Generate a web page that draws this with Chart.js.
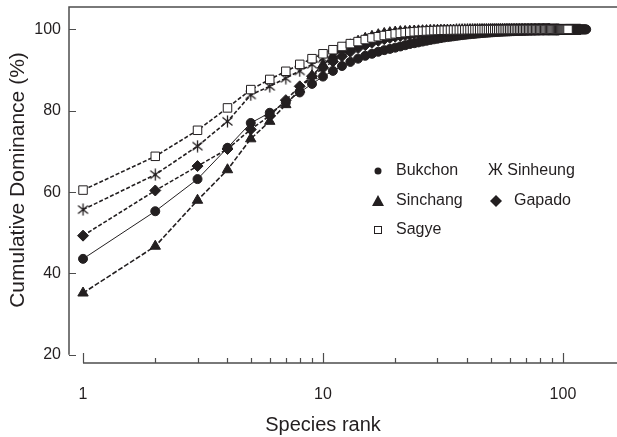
<!DOCTYPE html>
<html>
<head>
<meta charset="utf-8">
<script src="https://cdn.jsdelivr.net/npm/chart.js@4.4.1/dist/chart.umd.min.js"></script>
<style>
  html, body { margin: 0; padding: 0; background: #fff; }
  #wrap { width: 617px; height: 437px; position: relative; }
</style>
</head>
<body>
<div id="wrap"><canvas id="chart" width="617" height="437"></canvas></div>
<script>
// k-dominance values, index 0 = species rank 1
const bukchon = [43.6, 55.3, 63.2, 70.9, 77.0, 79.5, 82.0, 84.5, 86.6, 88.4,
  89.8, 91.0, 92.0, 92.8, 93.5, 94.0, 94.5, 94.9, 95.2, 95.5,
  95.8, 96.1, 96.4, 96.6, 96.8, 97.0, 97.2, 97.4, 97.55, 97.7,
  97.85, 98.0, 98.1, 98.2, 98.3, 98.4, 98.5, 98.58, 98.66, 98.74,
  98.8, 98.86, 98.92, 98.98, 99.03, 99.08, 99.13, 99.17, 99.21, 99.25,
  99.29, 99.32, 99.35, 99.38, 99.41, 99.44, 99.46, 99.48, 99.5, 99.52,
  99.54, 99.56, 99.58, 99.6, 99.62, 99.63, 99.64, 99.66, 99.67, 99.68,
  99.7, 99.71, 99.72, 99.73, 99.74, 99.75, 99.76, 99.77, 99.78, 99.79,
  99.8, 99.81, 99.82, 99.83, 99.84, 99.84, 99.85, 99.86, 99.87, 99.87,
  99.88, 99.89, 99.89, 99.9, 99.9, 99.91, 99.91, 99.92, 99.92, 99.93,
  99.93, 99.94, 99.94, 99.95, 99.95, 99.96, 99.96, 99.97, 99.97, 99.97,
  99.98, 99.98, 99.98, 99.98, 99.99, 99.99, 99.99, 99.99, 99.99, 100,
  100, 100, 100, 100, 100];
const sinheung = [55.7, 64.3, 71.3, 77.4, 83.9, 86.0, 88.0, 89.8, 91.4, 92.8,
  94.0, 95.0, 95.9, 96.6, 97.2, 97.7, 98.1, 98.4, 98.65, 98.85,
  99.0, 99.15, 99.27, 99.37, 99.45, 99.52, 99.58, 99.63, 99.67, 99.71,
  99.74, 99.77, 99.79, 99.81, 99.83, 99.85, 99.86, 99.87, 99.88, 99.89,
  99.9, 99.91, 99.91, 99.92, 99.92, 99.93, 99.93, 99.94, 99.94, 99.95,
  99.95, 99.95, 99.96, 99.96, 99.96, 99.96, 99.97, 99.97, 99.97, 99.97,
  99.98, 99.98, 99.98, 99.98, 99.98, 99.98, 99.98, 99.99, 99.99, 99.99,
  99.99, 99.99, 99.99, 99.99, 99.99, 99.99, 100, 100, 100, 100,
  100, 100, 100, 100, 100, 100, 100, 100, 100, 100,
  100, 100, 100, 100, 100, 100];
const sinchang = [35.2, 46.7, 58.0, 65.5, 73.1, 77.4, 81.5, 85.3, 88.6, 91.3,
  93.4, 95.0, 96.2, 97.1, 97.8, 98.3, 98.7, 99.0, 99.2, 99.35,
  99.45, 99.5, 99.55, 99.6, 99.64, 99.68, 99.7, 99.72, 99.74, 99.76,
  99.78, 99.8, 99.81, 99.82, 99.83, 99.84, 99.85, 99.86, 99.87, 99.88,
  99.89, 99.9, 99.9, 99.91, 99.91, 99.92, 99.92, 99.93, 99.93, 99.94,
  99.94, 99.95, 99.95, 99.95, 99.96, 99.96, 99.96, 99.97, 99.97, 99.97,
  99.97, 99.98, 99.98, 99.98, 99.98, 99.98, 99.99, 99.99, 99.99, 99.99,
  99.99, 99.99, 99.99, 100, 100, 100, 100, 100, 100, 100,
  100, 100, 100, 100, 100, 100, 100, 100];
const gapado = [49.3, 60.4, 66.4, 70.6, 75.4, 78.8, 82.6, 86.0, 88.5, 90.5,
  92.1, 93.4, 94.5, 95.4, 96.1, 96.7, 97.2, 97.6, 97.9, 98.2,
  98.4, 98.6, 98.75, 98.9, 99.0, 99.1, 99.2, 99.27, 99.34, 99.4,
  99.45, 99.5, 99.54, 99.58, 99.61, 99.64, 99.67, 99.7, 99.72, 99.74,
  99.76, 99.78, 99.79, 99.8, 99.81, 99.82, 99.83, 99.84, 99.85, 99.86,
  99.87, 99.88, 99.88, 99.89, 99.89, 99.9, 99.9, 99.91, 99.91, 99.92,
  99.92, 99.92, 99.93, 99.93, 99.93, 99.94, 99.94, 99.94, 99.95, 99.95,
  99.95, 99.95, 99.96, 99.96, 99.96, 99.96, 99.97, 99.97, 99.97, 99.97,
  99.97, 99.98, 99.98, 99.98, 99.98, 99.98, 99.98, 99.99, 99.99, 99.99,
  99.99, 99.99, 99.99, 99.99, 99.99, 99.99, 99.99, 99.99, 99.99, 99.99,
  99.99, 99.99, 100, 100, 100, 100, 100, 100, 100, 100,
  100, 100, 100, 100, 100, 100, 100, 100];
const sagye = [60.5, 68.8, 75.2, 80.7, 85.2, 87.7, 89.7, 91.4, 92.8, 94.0,
  95.0, 95.8, 96.5, 97.0, 97.5, 97.9, 98.2, 98.5, 98.7, 98.9,
  99.05, 99.2, 99.3, 99.4, 99.48, 99.55, 99.6, 99.65, 99.7, 99.73,
  99.76, 99.78, 99.8, 99.82, 99.84, 99.85, 99.86, 99.87, 99.88, 99.89,
  99.9, 99.9, 99.91, 99.91, 99.92, 99.92, 99.93, 99.93, 99.94, 99.94,
  99.94, 99.95, 99.95, 99.95, 99.96, 99.96, 99.96, 99.96, 99.97, 99.97,
  99.97, 99.97, 99.97, 99.98, 99.98, 99.98, 99.98, 99.98, 99.98, 99.99,
  99.99, 99.99, 99.99, 99.99, 99.99, 99.99, 99.99, 99.99, 99.99, 99.99,
  99.99, 99.99, 99.99, 99.99, 99.99, 100, 100, 100, 100, 100,
  100, 100, 100, 100, 100, 100, 100, 100, 100, 100,
  100, 100, 100, 100, 100];

const yTicks = [20, 40, 60, 80, 100];
const xTicks = [1, 10, 100];
const xMinorTicks = [2, 3, 4, 5, 6, 7, 8, 9, 20, 30, 40, 50, 60, 70, 80, 90];

const INK = '#231f20';
const FONT = '"Liberation Sans", Arial, sans-serif';

function toPoints(arr) {
  return arr.map((v, i) => ({ x: i + 1, y: v }));
}

// six-armed asterisk used for Sinheung
function makeStar() {
  const c = document.createElement('canvas');
  c.width = 13; c.height = 13;
  const g = c.getContext('2d');
  g.strokeStyle = INK;
  g.lineWidth = 1.3;
  g.beginPath();
  g.moveTo(6.5, 0.5); g.lineTo(6.5, 12.5);
  g.moveTo(1.5, 2.5); g.lineTo(11.5, 10.5);
  g.moveTo(11.5, 2.5); g.lineTo(1.5, 10.5);
  g.stroke();
  return c;
}

const legendItems = [
  { text: 'Bukchon', style: 'circle', x: 378, y: 171 },
  { text: 'Sinchang', style: 'triangle', x: 378, y: 201 },
  { text: 'Sagye', style: 'rect', x: 378, y: 230 },
  { text: 'Ж Sinheung', style: 'text', x: 488, y: 171 },
  { text: 'Gapado', style: 'rectRot', x: 496, y: 201 }
];

const axesPlugin = {
  id: 'axesPlugin',
  afterDraw(chart) {
    const { ctx, chartArea: a, scales: { x, y } } = chart;
    ctx.save();
    ctx.strokeStyle = '#4d4d4d';
    ctx.lineWidth = 1.5;
    const y20 = y.getPixelForValue(20);
    ctx.beginPath();
    // top frame and y axis (stops at 20)
    ctx.moveTo(a.right, a.top);
    ctx.lineTo(a.left, a.top);
    ctx.lineTo(a.left, y20);
    // x axis starts at rank 1
    ctx.moveTo(x.getPixelForValue(1), a.bottom);
    ctx.lineTo(a.right, a.bottom);
    ctx.stroke();

    ctx.lineWidth = 1.2;
    ctx.beginPath();
    yTicks.forEach(v => {
      const py = Math.round(y.getPixelForValue(v)) + 0.5;
      ctx.moveTo(a.left, py); ctx.lineTo(a.left + 7, py);
    });
    xTicks.forEach(v => {
      const px = Math.round(x.getPixelForValue(v)) + 0.5;
      ctx.moveTo(px, a.bottom); ctx.lineTo(px, a.bottom - 10);
    });
    xMinorTicks.forEach(v => {
      const px = Math.round(x.getPixelForValue(v)) + 0.5;
      ctx.moveTo(px, a.bottom); ctx.lineTo(px, a.bottom - 5);
    });
    ctx.stroke();

    // axis titles
    ctx.fillStyle = INK;
    ctx.textAlign = 'center';
    ctx.textBaseline = 'middle';
    ctx.font = '20px ' + FONT;
    ctx.fillText('Species rank', 323, 425);
    ctx.save();
    ctx.font = '21px ' + FONT;
    ctx.translate(18, 180);
    ctx.rotate(-Math.PI / 2);
    ctx.fillText('Cumulative Dominance (%)', 0, 0);
    ctx.restore();

    // legend inside the plot
    ctx.font = '16px ' + FONT;
    ctx.textAlign = 'left';
    legendItems.forEach(it => {
      ctx.fillStyle = INK;
      ctx.strokeStyle = INK;
      ctx.lineWidth = 1;
      if (it.style === 'text') {
        ctx.fillText(it.text, it.x, it.y);
        return;
      }
      if (it.style === 'circle') {
        ctx.beginPath(); ctx.arc(it.x, it.y, 3.5, 0, Math.PI * 2); ctx.fill();
      } else if (it.style === 'triangle') {
        ctx.beginPath();
        ctx.moveTo(it.x, it.y - 6); ctx.lineTo(it.x + 6, it.y + 5); ctx.lineTo(it.x - 6, it.y + 5);
        ctx.closePath(); ctx.fill();
      } else if (it.style === 'rect') {
        ctx.fillStyle = '#fff';
        ctx.fillRect(it.x - 3.5, it.y - 3.5, 7, 7);
        ctx.strokeRect(it.x - 3.5, it.y - 3.5, 7, 7);
        ctx.fillStyle = INK;
      } else if (it.style === 'rectRot') {
        ctx.beginPath();
        ctx.moveTo(it.x, it.y - 6); ctx.lineTo(it.x + 6, it.y);
        ctx.lineTo(it.x, it.y + 6); ctx.lineTo(it.x - 6, it.y);
        ctx.closePath(); ctx.fill();
      }
      ctx.fillText(it.text, it.x + 18, it.y);
    });
    ctx.restore();
  }
};

const starImg = makeStar();

function series(label, arr, style, radius, dash, width, fill) {
  return {
    label: label,
    data: toPoints(arr),
    borderColor: INK,
    borderWidth: width,
    borderDash: dash,
    backgroundColor: fill || INK,
    pointStyle: style,
    pointRadius: radius,
    pointBorderColor: INK,
    pointBorderWidth: 1,
    pointBackgroundColor: fill || INK,
    tension: 0
  };
}

new Chart(document.getElementById('chart'), {
  type: 'line',
  data: {
    datasets: [
      series('Sagye', sagye, 'rect', 6, [4, 2], 1.6, '#fff'),
      series('Sinheung', sinheung, starImg, 6, [4, 2], 1.6),
      series('Gapado', gapado, 'rectRot', 5.5, [4, 2], 1.6),
      series('Bukchon', bukchon, 'circle', 4.5, [], 1),
      series('Sinchang', sinchang, 'triangle', 6, [5, 2], 1.6)
    ]
  },
  options: {
    responsive: false,
    animation: false,
    layout: { autoPadding: false, padding: { top: 7, right: 0, left: 0, bottom: 0 } },
    plugins: { legend: { display: false }, tooltip: { enabled: false } },
    scales: {
      x: {
        type: 'logarithmic',
        min: 0.874,
        max: 168,
        grid: { display: false, drawTicks: false },
        border: { display: false },
        afterBuildTicks: s => { s.ticks = xTicks.map(v => ({ value: v })); },
        afterFit: s => { s.height = 74; s.paddingLeft = 0; s.paddingRight = 0; },
        ticks: {
          autoSkip: false,
          maxRotation: 0,
          padding: 22,
          color: INK,
          font: { size: 16, family: FONT },
          callback: v => String(v)
        }
      },
      y: {
        min: 18,
        max: 105.5,
        grid: { display: false, drawTicks: false },
        border: { display: false },
        afterBuildTicks: s => { s.ticks = yTicks.map(v => ({ value: v })); },
        afterFit: s => { s.width = 69; s.paddingTop = 0; s.paddingBottom = 0; },
        ticks: {
          padding: 8,
          color: INK,
          font: { size: 16, family: FONT }
        }
      }
    }
  },
  plugins: [axesPlugin]
});
</script>
</body>
</html>
